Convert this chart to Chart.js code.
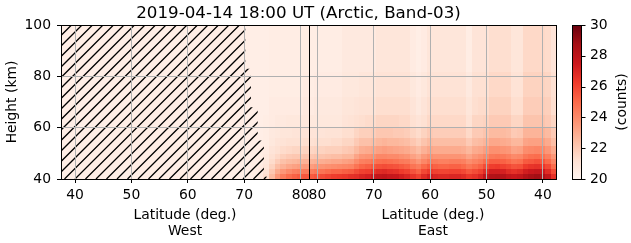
<!DOCTYPE html>
<html>
<head>
<meta charset="utf-8">
<script src="https://cdn.jsdelivr.net/npm/chart.js@4"></script>
<style>
  html, body { margin: 0; padding: 0; background: #fff; }
</style>
</head>
<body>
<canvas id="bandChart" width="631" height="243"></canvas>
<script>
// latitude axis runs West 37.5 -> pole -> East 37.5, east side folded at the pole
const pole = 81.5;
const westTicks = [40, 50, 60, 70, 80];
const eastTicks = [80, 70, 60, 50, 40];
const heightTicks = [40, 60, 80, 100];
const colorTicks = [20, 22, 24, 26, 28, 30];

// height bands (km), each column's counts go from 40 km upward
const heightEdges = [40, 42, 44, 46, 48, 50, 53, 56, 60, 65, 72, 82, 100];

// west of 70.5 everything is masked (hatched), counts there are flat
const hiddenCounts = 20.4;

const westLat = [71, 72, 73, 74, 75, 76, 77, 78, 79, 80, 81];
const westCounts = [
  [20.4, 20.4, 20.4, 20.4, 20.4, 20.4, 20.4, 20.4, 20.4, 20.4, 20.4, 20.4],
  [20.5, 20.5, 20.5, 20.4, 20.4, 20.4, 20.4, 20.4, 20.4, 20.4, 20.4, 20.4],
  [20.7, 20.6, 20.6, 20.5, 20.5, 20.5, 20.4, 20.4, 20.4, 20.4, 20.4, 20.4],
  [21.3, 21.1, 20.9, 20.8, 20.7, 20.6, 20.5, 20.5, 20.5, 20.4, 20.4, 20.4],
  [22.5, 22.1, 21.7, 21.4, 21.2, 21.0, 20.8, 20.7, 20.6, 20.6, 20.5, 20.5],
  [23.6, 23.0, 22.4, 21.9, 21.5, 21.2, 21.0, 20.8, 20.7, 20.6, 20.5, 20.5],
  [24.4, 23.6, 22.8, 22.3, 21.8, 21.4, 21.1, 20.9, 20.7, 20.6, 20.5, 20.5],
  [24.9, 24.0, 23.1, 22.5, 22.0, 21.5, 21.2, 20.9, 20.8, 20.6, 20.5, 20.5],
  [25.2, 24.3, 23.3, 22.6, 22.1, 21.6, 21.2, 21.0, 20.8, 20.6, 20.5, 20.5],
  [25.4, 24.4, 23.4, 22.7, 22.1, 21.6, 21.2, 21.0, 20.8, 20.6, 20.5, 20.5],
  [25.5, 24.5, 23.5, 22.8, 22.2, 21.7, 21.3, 21.0, 20.8, 20.7, 20.6, 20.5]
];

const eastLat = [81, 80, 79, 78, 77, 76, 75, 74, 73, 72, 71, 70, 69, 68, 67, 66, 65, 64, 63, 62, 61, 60,
                 59, 58, 57, 56, 55, 54, 53, 52, 51, 50, 49, 48, 47, 46, 45, 44, 43, 42, 41, 40, 39, 38];
const eastCounts = [
  [25.4, 24.4, 23.4, 22.7, 22.1, 21.6, 21.2, 21.0, 20.8, 20.6, 20.5, 20.5],
  [25.6, 24.6, 23.6, 22.8, 22.2, 21.7, 21.3, 21.0, 20.8, 20.7, 20.6, 20.5],
  [25.8, 24.7, 23.7, 22.9, 22.2, 21.7, 21.3, 21.0, 20.8, 20.7, 20.6, 20.5],
  [26.0, 24.9, 23.8, 23.0, 22.3, 21.8, 21.3, 21.1, 20.8, 20.7, 20.6, 20.5],
  [26.2, 25.1, 23.9, 23.1, 22.4, 21.8, 21.4, 21.1, 20.8, 20.7, 20.6, 20.5],
  [26.3, 25.1, 24.0, 23.1, 22.4, 21.8, 21.4, 21.1, 20.8, 20.7, 20.6, 20.5],
  [26.4, 25.3, 24.1, 23.3, 22.6, 22.0, 21.6, 21.3, 21.0, 20.9, 20.8, 20.7],
  [26.6, 25.4, 24.2, 23.4, 22.6, 22.1, 21.6, 21.3, 21.1, 20.9, 20.8, 20.7],
  [26.7, 25.8, 24.7, 23.9, 23.2, 22.5, 22.0, 21.6, 21.2, 21.0, 20.8, 20.7],
  [27.0, 26.1, 25.1, 24.3, 23.6, 22.9, 22.3, 21.8, 21.3, 21.1, 20.9, 20.7],
  [27.2, 26.2, 25.3, 24.4, 23.7, 23.0, 22.3, 21.8, 21.4, 21.1, 20.9, 20.7],
  [27.5, 26.5, 25.5, 24.6, 23.8, 23.1, 22.4, 21.9, 21.4, 21.1, 20.9, 20.7],
  [27.8, 26.8, 25.7, 24.8, 24.1, 23.3, 22.6, 22.1, 21.6, 21.3, 21.1, 20.9],
  [27.9, 26.9, 25.8, 24.9, 24.1, 23.4, 22.7, 22.1, 21.6, 21.3, 21.1, 20.9],
  [27.7, 26.7, 25.7, 24.8, 24.0, 23.3, 22.6, 22.1, 21.6, 21.3, 21.1, 20.9],
  [27.6, 26.6, 25.6, 24.7, 24.0, 23.2, 22.6, 22.0, 21.6, 21.3, 21.1, 20.9],
  [27.3, 26.3, 25.4, 24.5, 23.8, 23.1, 22.5, 22.0, 21.5, 21.3, 21.1, 20.9],
  [27.0, 26.1, 25.2, 24.4, 23.7, 23.0, 22.4, 21.9, 21.5, 21.3, 21.1, 20.9],
  [26.5, 25.6, 24.7, 24.0, 23.3, 22.7, 22.1, 21.6, 21.2, 21.0, 20.8, 20.6],
  [26.1, 25.2, 24.4, 23.6, 23.0, 22.4, 21.8, 21.4, 21.0, 20.7, 20.6, 20.4],
  [26.8, 25.9, 25.0, 24.1, 23.5, 22.8, 22.2, 21.7, 21.2, 21.0, 20.8, 20.6],
  [27.3, 26.3, 25.4, 24.5, 23.8, 23.1, 22.5, 22.0, 21.5, 21.3, 21.1, 20.9],
  [27.0, 26.1, 25.2, 24.4, 23.7, 23.0, 22.4, 21.9, 21.5, 21.3, 21.1, 20.9],
  [26.9, 26.0, 25.1, 24.3, 23.7, 23.0, 22.4, 21.9, 21.5, 21.3, 21.1, 20.9],
  [26.9, 26.0, 25.1, 24.3, 23.7, 23.0, 22.4, 21.9, 21.5, 21.3, 21.1, 20.9],
  [27.0, 26.1, 25.2, 24.4, 23.7, 23.0, 22.4, 21.9, 21.5, 21.3, 21.1, 20.9],
  [27.0, 26.1, 25.2, 24.4, 23.7, 23.0, 22.4, 21.9, 21.5, 21.3, 21.1, 20.9],
  [26.8, 25.9, 25.0, 24.3, 23.6, 22.9, 22.4, 21.9, 21.5, 21.3, 21.1, 20.9],
  [26.4, 25.5, 24.6, 23.9, 23.2, 22.6, 22.0, 21.5, 21.1, 20.9, 20.7, 20.5],
  [26.6, 25.8, 24.9, 24.2, 23.6, 23.0, 22.4, 22.0, 21.6, 21.3, 21.2, 21.0],
  [27.0, 26.1, 25.2, 24.4, 23.8, 23.1, 22.5, 22.0, 21.6, 21.4, 21.2, 21.0],
  [27.8, 26.8, 25.8, 24.9, 24.1, 23.4, 22.7, 22.2, 21.7, 21.4, 21.2, 21.0],
  [28.3, 27.3, 26.2, 25.3, 24.5, 23.8, 23.1, 22.5, 22.0, 21.7, 21.5, 21.3],
  [28.4, 27.3, 26.3, 25.3, 24.6, 23.8, 23.1, 22.5, 22.0, 21.7, 21.5, 21.3],
  [28.2, 27.2, 26.1, 25.2, 24.5, 23.7, 23.0, 22.5, 22.0, 21.7, 21.5, 21.3],
  [27.8, 26.8, 25.9, 25.0, 24.3, 23.6, 22.9, 22.4, 22.0, 21.7, 21.5, 21.3],
  [27.6, 26.6, 25.6, 24.7, 24.0, 23.2, 22.6, 22.0, 21.6, 21.3, 21.1, 20.9],
  [27.8, 26.8, 25.7, 24.8, 24.1, 23.3, 22.6, 22.1, 21.6, 21.3, 21.1, 20.9],
  [28.3, 27.3, 26.3, 25.4, 24.6, 23.9, 23.2, 22.7, 22.2, 21.9, 21.7, 21.5],
  [28.6, 27.5, 26.5, 25.5, 24.8, 24.0, 23.3, 22.7, 22.2, 21.9, 21.7, 21.5],
  [28.8, 27.7, 26.6, 25.7, 24.9, 24.1, 23.3, 22.7, 22.2, 21.9, 21.7, 21.5],
  [28.5, 27.5, 26.4, 25.5, 24.7, 24.0, 23.3, 22.7, 22.2, 21.9, 21.7, 21.5],
  [27.8, 26.8, 25.9, 25.0, 24.3, 23.6, 23.0, 22.5, 22.0, 21.8, 21.6, 21.4],
  [26.6, 25.8, 24.9, 24.2, 23.6, 23.0, 22.4, 22.0, 21.6, 21.3, 21.2, 21.0]
];

// masked (hatched) part of the west side: step edge per height band
const hatchHeights = [100, 83, 68, 55, 41, 40];
const hatchLat = [70.2, 71.2, 72.4, 73.5, 74.0];

const FONT = '"DejaVu Sans", sans-serif';
const reds = ['#fff5f0', '#fee0d2', '#fcbba1', '#fc9272', '#fb6a4a', '#ef3b2c', '#cb181d', '#a50f15', '#67000d'];
const redsRgb = reds.map(h => [1, 3, 5].map(i => parseInt(h.substr(i, 2), 16)));

function colorFor(v) {
  let t = (v - colorTicks[0]) / (colorTicks[colorTicks.length - 1] - colorTicks[0]);
  t = Math.max(0, Math.min(1, t)) * (reds.length - 1);
  const i = Math.min(Math.floor(t), reds.length - 2);
  const f = t - i;
  const c = redsRgb[i].map((a, k) => Math.round(a + (redsRgb[i + 1][k] - a) * f));
  return `rgb(${c[0]},${c[1]},${c[2]})`;
}

const eastPos = lat => 2 * pole - lat;

const heatmap = {
  id: 'heatmap',
  beforeDraw(chart) {
    const { ctx, chartArea: a, scales: { x, y } } = chart;
    ctx.save();
    ctx.fillStyle = '#fff';
    ctx.fillRect(0, 0, chart.width, chart.height);
    ctx.beginPath();
    ctx.rect(a.left, a.top, a.right - a.left, a.bottom - a.top);
    ctx.clip();

    const cell = (p0, p1, h0, h1, v) => {
      const xa = x.getPixelForValue(p0), xb = x.getPixelForValue(p1);
      const ya = y.getPixelForValue(h0), yb = y.getPixelForValue(h1);
      const l = Math.floor(Math.min(xa, xb)), r = Math.ceil(Math.max(xa, xb));
      const t = Math.floor(Math.min(ya, yb)), b = Math.ceil(Math.max(ya, yb));
      ctx.fillStyle = colorFor(v);
      ctx.fillRect(l, t, r - l, b - t);
    };

    cell(x.min, westLat[0] - 0.5, y.min, y.max, hiddenCounts);
    westLat.forEach((lat, i) => {
      westCounts[i].forEach((v, j) => cell(lat - 0.5, lat + 0.5, heightEdges[j], heightEdges[j + 1], v));
    });
    eastLat.forEach((lat, i) => {
      eastCounts[i].forEach((v, j) => cell(eastPos(lat + 0.5), eastPos(lat - 0.5), heightEdges[j], heightEdges[j + 1], v));
    });

    // hatching over the masked region
    ctx.beginPath();
    ctx.moveTo(x.getPixelForValue(x.min), y.getPixelForValue(hatchHeights[0]));
    hatchLat.forEach((lat, i) => {
      ctx.lineTo(x.getPixelForValue(lat), y.getPixelForValue(hatchHeights[i]));
      ctx.lineTo(x.getPixelForValue(lat), y.getPixelForValue(hatchHeights[i + 1]));
    });
    ctx.lineTo(x.getPixelForValue(x.min), y.getPixelForValue(hatchHeights[hatchHeights.length - 1]));
    ctx.closePath();
    ctx.clip();
    ctx.strokeStyle = '#000';
    ctx.lineWidth = 1.3;
    const h = a.bottom - a.top;
    ctx.beginPath();
    for (let k = -h; k < a.right - a.left; k += 10.5) {
      ctx.moveTo(a.left + k, a.bottom);
      ctx.lineTo(a.left + k + h, a.top);
    }
    ctx.stroke();
    ctx.restore();
  },
  afterDraw(chart) {
    const { ctx, chartArea: a, scales: { x, cb } } = chart;
    ctx.save();
    // pole line
    const px = Math.round(x.getPixelForValue(pole)) + 0.5;
    ctx.strokeStyle = '#000';
    ctx.lineWidth = 1;
    ctx.beginPath();
    ctx.moveTo(px, a.top);
    ctx.lineTo(px, a.bottom);
    ctx.stroke();
    // frame
    ctx.strokeRect(a.left + 0.5, a.top + 0.5, a.right - a.left - 1, a.bottom - a.top);

    // colorbar
    const cl = a.right + 15, cw = 9;
    const top = cb.getPixelForValue(cb.max), bot = cb.getPixelForValue(cb.min);
    const g = ctx.createLinearGradient(0, bot, 0, top);
    reds.forEach((c, i) => g.addColorStop(i / (reds.length - 1), c));
    ctx.fillStyle = g;
    ctx.fillRect(cl, top, cw, bot - top);
    ctx.strokeRect(cl + 0.5, top + 0.5, cw, bot - top);
    ctx.beginPath();
    colorTicks.forEach(v => {
      const ty = Math.round(cb.getPixelForValue(v)) + 0.5;
      ctx.moveTo(cl + cw + 0.5, ty);
      ctx.lineTo(cl + cw + 4.5, ty);
    });
    ctx.stroke();

    // texts
    ctx.fillStyle = '#000';
    ctx.textAlign = 'center';
    ctx.textBaseline = 'alphabetic';
    ctx.font = '16.7px ' + FONT;
    ctx.fillText('2019-04-14 18:00 UT (Arctic, Band-03)', 298.5, 18);

    ctx.font = '13.9px ' + FONT;
    const wx = x.getPixelForValue((x.min + pole) / 2);
    const ex = x.getPixelForValue((pole + x.max) / 2);
    ctx.fillText('Latitude (deg.)', wx, 219);
    ctx.fillText('West', wx, 235);
    ctx.fillText('Latitude (deg.)', ex, 219);
    ctx.fillText('East', ex, 235);

    const midY = (a.top + a.bottom) / 2;
    ctx.save();
    ctx.translate(15.5, midY);
    ctx.rotate(-Math.PI / 2);
    ctx.fillText('Height (km)', 0, 0);
    ctx.restore();
    ctx.save();
    ctx.translate(626, midY);
    ctx.rotate(-Math.PI / 2);
    ctx.fillText('(counts)', 0, 0);
    ctx.restore();
    ctx.restore();
  }
};

Chart.defaults.font.family = FONT;
Chart.defaults.font.size = 13.9;
Chart.defaults.color = '#000';

new Chart(document.getElementById('bandChart'), {
  type: 'scatter',
  data: { datasets: [] },
  options: {
    responsive: false,
    animation: false,
    devicePixelRatio: 1,
    layout: { padding: { top: 25, left: 0, right: 0, bottom: 0 } },
    plugins: { legend: { display: false }, tooltip: { enabled: false }, title: { display: false } },
    scales: {
      x: {
        type: 'linear',
        min: 37.5,
        max: 2 * pole - 37.5,
        afterBuildTicks: s => {
          s.ticks = westTicks.map(v => ({ value: v })).concat(eastTicks.map(l => ({ value: eastPos(l) })));
        },
        afterFit: s => { s.height = 64; },
        ticks: {
          autoSkip: false,
          maxRotation: 0,
          padding: 4,
          callback: v => String(Math.round(v <= pole ? v : eastPos(v)))
        },
        grid: { color: '#b0b0b0', tickColor: '#000', tickLength: 4 },
        border: { display: false }
      },
      y: {
        type: 'linear',
        position: 'left',
        min: heightTicks[0],
        max: heightTicks[heightTicks.length - 1],
        afterBuildTicks: s => { s.ticks = heightTicks.map(v => ({ value: v })); },
        afterFit: s => { s.width = 61; },
        ticks: { padding: 6 },
        grid: { color: '#b0b0b0', tickColor: '#000', tickLength: 4 },
        border: { display: false }
      },
      cb: {
        type: 'linear',
        position: 'right',
        min: colorTicks[0],
        max: colorTicks[colorTicks.length - 1],
        afterBuildTicks: s => { s.ticks = colorTicks.map(v => ({ value: v })); },
        afterFit: s => { s.width = 74; },
        ticks: { padding: 4 },
        grid: { display: false, drawTicks: true, tickLength: 29 },
        border: { display: false }
      }
    }
  },
  plugins: [heatmap]
});
</script>
</body>
</html>
